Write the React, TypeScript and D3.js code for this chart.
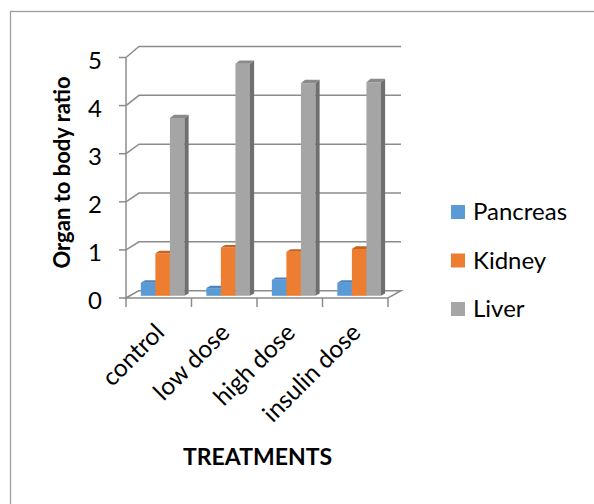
import React from "react";
import * as d3 from "d3";

// Organ-to-body ratio per treatment group
const categories = ["control", "low dose", "high dose", "insulin dose"];
const seriesNames = ["Pancreas", "Kidney", "Liver"];
const pancreas = [0.27, 0.16, 0.33, 0.27];
const kidney = [0.88, 1.0, 0.91, 0.97];
const liver = [3.68, 4.8, 4.4, 4.42];
const yTicks = [0, 1, 2, 3, 4, 5];

const FONT = "Lato, 'Open Sans', sans-serif";

const faceColors = [
  { front: "#5B9BD5", top: "#4A83BE", side: "#3E6F9F" },
  { front: "#ED7D31", top: "#C8621E", side: "#AE5A22" },
  { front: "#A5A5A5", top: "#8A8A8A", side: "#6F6F6F" },
];

export default function App() {
  const W = 594;
  const H = 504;
  const seriesValues = [pancreas, kidney, liver];

  // Front plane of the 3D box and its back wall
  const xBand = d3.scaleBand<string>().domain(categories).range([126, 388]);
  const yFront = d3.scaleLinear().domain([0, 5]).range([298, 57.5]);
  const yBack = d3.scaleLinear().domain([0, 5]).range([290.7, 46.5]);
  const DX = 13;
  const proj = (x: number, v: number, z: number): [number, number] => [
    x + z * DX,
    (1 - z) * yFront(v) + z * yBack(v),
  ];
  const pts = (arr: [number, number][]) => arr.map((p) => p.join(",")).join(" ");

  const bw = xBand.bandwidth();
  const barW = bw * 0.222;
  const z0 = 0.3;
  const z1 = 0.62;

  const xLeft = xBand.range()[0];
  const xRight = xBand.range()[1];
  const gridColor = "#8C8C8C";

  const bars: JSX.Element[] = [];
  categories.forEach((c, ci) => {
    const center = (xBand(c) as number) + bw / 2;
    seriesValues.forEach((vals, si) => {
      const v = vals[ci];
      const x0 = center - 1.5 * barW + si * barW;
      const x1 = x0 + barW;
      const col = faceColors[si];
      const front = [proj(x0, v, z0), proj(x1, v, z0), proj(x1, 0, z0), proj(x0, 0, z0)];
      const side = [proj(x1, v, z0), proj(x1, 0, z0), proj(x1, 0, z1), proj(x1, v, z1)];
      const top = [proj(x0, v, z0), proj(x1, v, z0), proj(x1, v, z1), proj(x0, v, z1)];
      bars.push(
        <g key={`${c}-${si}`}>
          <polygon points={pts(front)} fill={col.front} />
          <polygon points={pts(side)} fill={col.side} />
          <polygon points={pts(top)} fill={col.top} />
        </g>
      );
    });
  });

  return (
    <svg
      width={W}
      height={H}
      style={{ position: "absolute", left: 0, top: 0, background: "#fff" }}
    >
      {/* chart area border */}
      <rect x={10.5} y={11.5} width={620} height={540} fill="none" stroke="#9E9E9E" strokeWidth={1.3} />

      {/* back wall and left wall gridlines */}
      {yTicks.map((t) => {
        const a = proj(xLeft, t, 0);
        const b = proj(xLeft, t, 1);
        const e = proj(xRight, t, 1);
        return (
          <g key={`g${t}`} stroke={gridColor} strokeWidth={1.5} fill="none">
            <line x1={a[0] - 7} y1={a[1]} x2={a[0]} y2={a[1]} />
            <polyline points={pts([a, b, e])} />
          </g>
        );
      })}

      {/* floor */}
      <polygon
        points={pts([proj(xLeft, 0, 0), proj(xRight, 0, 0), proj(xRight, 0, 1), proj(xLeft, 0, 1)])}
        fill="#fff"
        stroke={gridColor}
        strokeWidth={1.5}
      />

      {/* category ticks */}
      {d3.range(categories.length + 1).map((i) => {
        const x = xLeft + i * bw;
        return <line key={`ct${i}`} x1={x} x2={x} y1={yFront(0)} y2={yFront(0) + 9} stroke={gridColor} strokeWidth={1.5} />;
      })}

      {bars}

      {/* vertical axis */}
      <line x1={xLeft} x2={xLeft} y1={yFront(0)} y2={yFront(5)} stroke={gridColor} strokeWidth={1.5} />

      {/* y tick labels */}
      {yTicks.map((t) => (
        <text key={`yl${t}`} x={102} y={yFront(t) + 11} textAnchor="end" fontFamily={FONT} fontSize={24} fill="#000">
          {t}
        </text>
      ))}

      {/* y axis title */}
      <text
        transform={`translate(70,172.5) rotate(-90)`}
        textAnchor="middle"
        fontFamily={FONT}
        fontSize={22}
        fontWeight="bold"
        fill="#000"
      >
        Organ to body ratio
      </text>

      {/* category labels */}
      {categories.map((c) => {
        const cx = (xBand(c) as number) + bw / 2;
        return (
          <text
            key={`xl${c}`}
            transform={`translate(${cx + 7},334) rotate(-45)`}
            textAnchor="end"
            fontFamily={FONT}
            fontSize={24.5}
            fill="#000"
          >
            {c}
          </text>
        );
      })}

      {/* x axis title */}
      <text x={257.5} y={465} textAnchor="middle" fontFamily={FONT} fontSize={23} fontWeight="bold" fill="#000">
        TREATMENTS
      </text>

      {/* legend */}
      {seriesNames.map((s, i) => {
        const y = [205, 253.5, 302][i];
        return (
          <g key={`lg${s}`}>
            <rect x={451} y={y} width={14} height={14} fill={faceColors[i].front} />
            <text x={473} y={y + 15} fontFamily={FONT} fontSize={24} fill="#000">
              {s}
            </text>
          </g>
        );
      })}
    </svg>
  );
}
